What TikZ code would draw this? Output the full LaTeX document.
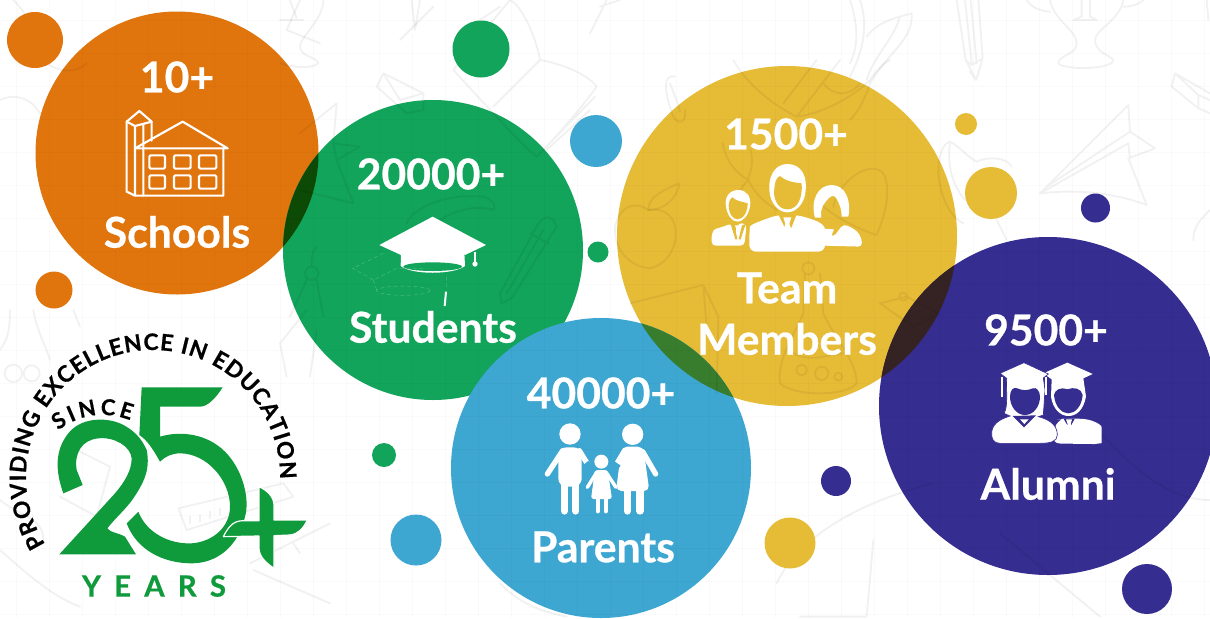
\documentclass[tikz,border=0pt]{standalone}
\usepackage{fontspec}
\setmainfont{Lato}
\newfontfamily\hv[UprightFont=* Bold,FakeBold=0.6]{Lato}
\newfontfamily\hvring[UprightFont=* Bold,FakeBold=0.8]{Lato}
\newfontfamily\yearsfont[UprightFont=* Bold,FakeBold=0.6,LetterSpace=45]{Lato}
\usetikzlibrary{calc,decorations.text}
\definecolor{corange}{HTML}{E1750D}
\definecolor{cgreen}{HTML}{12A45A}
\definecolor{cblue}{HTML}{3DA6D1}
\definecolor{cyellow}{HTML}{E6BB36}
\definecolor{cpurple}{HTML}{362D90}
\definecolor{logog}{HTML}{0F9A3C}
\definecolor{ogmix}{HTML}{0C4A05}
\definecolor{bymix}{HTML}{387C2E}
\definecolor{ypmix}{HTML}{352323}
\tikzset{
 zoomed/.style 2 args={shift={(#1,#2)},x=.25pt,y=-.25pt},
 dood/.style={draw=black,draw opacity=.055,line width=1.4pt,line join=round,line cap=round},
 gridl/.style={draw=black,draw opacity=.018,line width=.5pt},
 lab/.style={text=white,inner sep=0pt,font=\hv\fontsize{32}{37}\selectfont},
 wline/.style={draw=white,line width=1.6pt,line join=round,line cap=round},
 limb/.style={draw=white,line cap=round,line width=#1}
}
\begin{document}
\begin{tikzpicture}[x=.75pt,y=-.75pt]
\useasboundingbox (0,0) rectangle (1210,618);
\clip (0,0) rectangle (1210,618);
\fill[white] (0,0) rectangle (1210,618);
% large circles
\fill[corange] (177,153) circle[radius=141.5];
\fill[cyellow] (787,236) circle[radius=170];
\fill[cgreen] (433,250) circle[radius=150];
\fill[cpurple] (1048,406) circle[radius=169];
\begin{scope}\clip (177,153) circle[radius=141.5];\fill[ogmix] (433,250) circle[radius=150];\end{scope}
\begin{scope}\clip (787,236) circle[radius=170];\fill[ypmix] (1048,406) circle[radius=169];\end{scope}
\fill[cblue] (601,468) circle[radius=150];
\begin{scope}\clip (787,236) circle[radius=170];\fill[bymix] (601,468) circle[radius=150];\end{scope}
% grid
\foreach \g in {16,49,...,1210}{\draw[gridl] (\g,0)--(\g,618);}
\foreach \g in {20,53,...,618}{\draw[gridl] (0,\g)--(1210,\g);}
% doodles, top right
\begin{scope}[zoomed={850}{0}]
\draw[dood] (600,0) .. controls (610,60) and (680,90) .. (680,130) .. controls (680,165) and (625,165) .. (625,190) .. controls (640,210) and (780,210) .. (790,182) .. controls (785,165) and (735,160) .. (735,120) .. controls (735,90) and (810,60) .. (820,0);
\draw[dood] (530,0) .. controls (545,25) and (580,35) .. (600,35) (820,20) .. controls (850,20) and (870,10) .. (880,0);
\draw[dood] (695,0)--(695,50)--(670,60)--(740,60)--(720,50)--(720,0);
\draw[dood] (320,0)--(347,180)--(378,240)--(398,175)--(385,0) (345,0)--(365,190) (362,0)--(380,190) (347,180)--(365,195)--(398,175) (360,215)--(378,240)--(388,212);
\draw[dood] (570,580)--(835,315)--(840,395)--(915,445)--(835,475)--(890,615) .. controls (810,585) and (700,565) .. (570,580) (570,580)--(835,430)--(840,475) (590,560)--(840,395);
\draw[dood] (1080,280)--(975,220)--(965,260)--(1045,325)--(1080,340) (975,220) -- (1045,285)--(1080,300) (1045,285)--(1045,325);
\draw[dood] (150,50)--(185,40) .. controls (190,120) and (120,150) .. (60,250) .. controls (40,310) and (20,340) .. (0,360) (30,0) .. controls (60,90) and (30,170) .. (0,230) (0,0) .. controls (30,90) and (20,150) .. (0,190) (150,50) .. controls (110,60) and (70,80) .. (50,110) (150,50) .. controls (130,120) and (70,170) .. (50,240);
\draw[dood] (265,520) .. controls (265,460) and (280,430) .. (300,425) .. controls (330,440) and (350,470) .. (380,485) .. controls (410,470) and (470,470) .. (485,500) (265,520) .. controls (270,590) and (300,650) .. (340,670) (300,425) .. controls (290,500) and (310,560) .. (345,600) (440,660)--(470,720);
\draw[dood] (1080,630) .. controls (1050,660) and (1030,680) .. (1030,720) (1070,0)--(1075,60);
\end{scope}
% doodles, yellow circle
\begin{scope}[zoomed={620}{60}]
\draw[dood] (85,450) .. controls (40,420) and (0,440) .. (-15,500) .. controls (-20,570) and (30,620) .. (90,625) .. controls (150,610) and (175,550) .. (165,500) .. controls (155,455) and (120,445) .. (85,450);
\draw[dood] (85,450) .. controls (85,410) and (130,390) .. (178,370) .. controls (170,420) and (130,450) .. (85,450);
\draw[dood] (640,440) .. controls (660,350) and (770,290) .. (795,350) .. controls (815,410) and (785,490) .. (770,525) .. controls (720,510) and (640,470) .. (600,430);
\draw[dood] (308,250) .. controls (320,310) and (350,340) .. (385,360) .. controls (410,410) and (440,430) .. (470,450) (392,270) .. controls (400,310) and (395,330) .. (380,365) .. controls (350,400) and (340,430) .. (330,460);
\draw[dood] (165,50) .. controls (130,40) and (130,90) .. (160,170) .. controls (175,195) and (200,190) .. (195,150) (150,70) .. controls (165,110) and (175,130) .. (180,155);
\draw[dood] (340,0) .. controls (380,70) and (450,130) .. (530,170) .. controls (610,160) and (700,110) .. (750,60) .. controls (770,30) and (790,10) .. (810,0) (490,130)--(590,0) (530,170)--(660,0) (610,70) .. controls (640,110) and (690,110) .. (720,70);
\draw[dood] (30,730)--(250,675)--(295,770)--(290,1000) (250,675)--(260,800);
\draw[dood] (565,625) circle[radius=18] (555,640)--(550,760) .. controls (520,830) and (470,900) .. (480,970) .. controls (520,1010) and (680,1010) .. (710,970) .. controls (710,900) and (640,830) .. (610,760)--(600,640) (520,880) .. controls (580,910) and (630,880) .. (675,880);
\draw[dood] (545,930) circle[radius=16] (605,940) circle[radius=20] (655,950) circle[radius=12];
\draw[dood] (780,730)--(860,710)--(960,760)--(880,800)--cycle (850,710) circle[radius=12];
\end{scope}
% doodles, green circle and book
\begin{scope}[zoomed={280}{0}]
\draw[dood] (520,210) .. controls (580,130) and (640,60) .. (690,0) .. controls (730,20) and (770,120) .. (780,180) .. controls (840,190) and (920,220) .. (950,260) .. controls (900,330) and (820,420) .. (770,470) .. controls (730,440) and (640,340) .. (520,210) (780,180)--(640,320) (945,290)--(790,450) (930,330)--(800,450) (600,60)--(660,20);
\draw[dood] (290,260)--(310,220)--(430,280)--(430,330)--(380,340)--cycle (310,220)--(360,300)--(430,280) ;
\draw[dood] (820,660) .. controls (800,640) and (780,660) .. (770,680)--(660,880)--(665,910)--(695,895)--(830,680)--(820,660) (750,700)--(805,730) (680,880)--(790,690);
\draw[dood] (160,430)--(170,310)--(60,400) (160,430)--(240,440)--(170,480)--(220,610)--(60,570) (170,480)--(160,430);
\draw[dood] (110,740) .. controls (90,760) and (95,800) .. (95,800) (95,820) circle[radius=20] (80,840)--(30,950) (110,840)--(130,950);
\draw[dood] (380,670) .. controls (400,620) and (500,580) .. (610,590) .. controls (640,600) and (650,620) .. (640,630) .. controls (580,610) and (500,640) .. (470,670);
\draw[dood] (30,0) .. controls (40,30) and (50,50) .. (50,60) (0,60)--(70,60) (130,0) .. controls (130,60) and (60,110) .. (60,140) .. controls (60,170) and (110,170) .. (115,190) .. controls (90,210) and (30,200) .. (0,190) (395,0)--(405,90)--(420,0);
\draw[dood] (980,0)--(930,100) (960,20)--(1020,0);
\end{scope}
% doodles, left and lower
\begin{scope}[zoomed={0}{310}]
\draw[dood] (30,0) .. controls (30,70) and (20,90) .. (0,120) (100,0) .. controls (110,60) and (130,90) .. (150,150) (40,190) circle[radius=26] (95,190) circle[radius=24];
\draw[dood] (840,100)--(920,0) (840,100)--(860,200) (930,200)--(950,60);
\draw[dood] (535,595)--(850,520)--(880,560)--(560,660)--cycle (570,640)--(570,620) (600,635)--(600,615) (630,625)--(630,605) (660,615)--(660,595);
\draw[dood] (230,420)--(330,470)--(290,620)--(180,560);
\draw[dood] (750,760)--(990,640) (760,780)--(990,880) (880,700)--(900,730);
\draw[dood] (0,570) .. controls (60,620) and (130,620) .. (130,690) (0,720) .. controls (90,800) and (160,860) .. (240,890) (220,0)--(240,50);
\end{scope}
\begin{scope}[zoomed={0}{0}]
\draw[dood] (0,300) .. controls (40,280) and (90,290) .. (120,340) (40,0) .. controls (80,40) and (100,80) .. (110,130) (130,180) .. controls (170,220) and (230,220) .. (260,190) (900,0)--(860,90)--(960,130) (1200,120)--(1300,20);
\draw[dood] (2330,1750) .. controls (2400,1600) and (2600,1500) .. (2800,1450) (2400,1850)--(2600,1850)--(2620,1620) (3000,1600)--(3300,1850) (3300,1300) .. controls (3400,1400) and (3500,1500) .. (3630,1500);
\draw[dood] (1500,1750) .. controls (1550,1800) and (1600,1830) .. (1700,1850);
\end{scope}
% small circles
\fill[corange] (35,40) circle[radius=28];
\fill[corange] (54,290) circle[radius=18.5];
\fill[cgreen] (481,49) circle[radius=28.5];
\fill[cgreen] (598,252) circle[radius=10.5];
\fill[cgreen] (384,455) circle[radius=12];
\fill[cblue] (596,141) circle[radius=26];
\fill[cblue] (416,540) circle[radius=25.5];
\fill[cpurple] (836,481) circle[radius=15];
\fill[cpurple] (1095.5,208) circle[radius=14.5];
\fill[cpurple] (1147,589) circle[radius=25];
\fill[cyellow] (790,543) circle[radius=25.5];
\fill[cyellow] (966,124) circle[radius=11];
\fill[cyellow] (991,193) circle[radius=26];
% labels
\node[lab] (n10) at (177,77) {10+};
\node[lab] (ns) at (177,232) {Schools};
\node[lab] (n20) at (431,174) {20000+};
\node[lab] (nst) at (433,327) {Students};
\node[lab] (n15) at (786,134) {1500+};
\node[lab] (nte) at (787,288) {Team};
\node[lab] (nme) at (787,339) {Members};
\node[lab] (n40) at (601,393) {40000+};
\node[lab] (npa) at (603,547) {Parents};
\node[lab] (n95) at (1046,330) {9500+};
\node[lab] (nal) at (1048,484) {Alumni};
% school icon
\begin{scope}[zoomed={90}{50}]
\draw[wline] (135,295)--(278,215)--(413,295)--cycle;
\draw[wline] (110,215)--(148,183)--(185,215)--(185,272);
\draw[wline] (110,215)--(135,228)--(185,215) (135,228)--(135,437) (160,225)--(160,437);
\draw[wline] (110,215)--(110,425)--(135,437)--(400,437)--(400,295);
\foreach \wx/\ww in {178/47,252/50,327/52}{\foreach \wy in {316,376}{
 \draw[wline,rounded corners=1pt] (\wx,\wy) rectangle (\wx+\ww,\wy+40);}}
\end{scope}
% cap icon
\begin{scope}[zoomed={340}{200}]
\fill[white] (118,135)--(278,50)--(438,135)--(375,165) .. controls (340,125) and (215,125) .. (183,165)--cycle;
\fill[white] (183,158) .. controls (210,125) and (345,125) .. (373,158)--(375,198) .. controls (340,225) and (215,225) .. (182,198)--cycle;
\fill[cgreen] (278,200) ellipse[x radius=88,y radius=13];
\draw[white,line width=1pt] (405,155)--(405,190);
\fill[white] (405,192) circle[radius=8];
\draw[white,line width=1.5pt] (318,275)--(314,318);
\draw[white,draw opacity=.22,line width=.4pt,densely dashed] (130,160)--(38,205)--(100,240)--(170,205)--(260,205) (190,272) ellipse[x radius=80,y radius=14] (320,230)--(320,270) (110,270)--(100,240);
\end{scope}
% team icon
\begin{scope}[zoomed={700}{150}]
% centre man
\fill[white] (210,135) .. controls (200,80) and (225,42) .. (262,42) .. controls (305,42) and (325,80) .. (315,135) .. controls (310,160) and (290,187) .. (262,187) .. controls (235,187) and (215,160) .. (210,135)--cycle;
\fill[cyellow] (222,125) .. controls (225,100) and (225,85) .. (240,78) .. controls (260,95) and (285,98) .. (305,100) .. controls (308,140) and (295,178) .. (262,178) .. controls (235,178) and (222,150) .. (222,125)--cycle;
\fill[white,rounded corners=5pt] (148,305)--(148,250) .. controls (150,225) and (175,215) .. (232,195)--(292,195) .. controls (345,210) and (375,220) .. (375,260)--(375,305)--cycle;
\fill[cyellow] (235,193)--(290,193)--(265,255)--cycle;
\fill[white] (250,202)--(274,202)--(268,222)--(278,250)--(262,262)--(246,250)--(256,222)--cycle;
% left man
\fill[white] (78,170) .. controls (72,140) and (90,120) .. (115,120) .. controls (140,120) and (155,140) .. (150,170) .. controls (145,195) and (130,215) .. (113,215) .. controls (95,215) and (82,195) .. (78,170)--cycle;
\fill[cyellow] (86,165) .. controls (88,150) and (92,145) .. (97,142) .. controls (110,155) and (130,155) .. (143,160) .. controls (143,185) and (130,208) .. (113,208) .. controls (98,208) and (86,190) .. (86,165)--cycle;
\fill[white,rounded corners=3pt] (35,287)--(35,250) .. controls (45,235) and (75,230) .. (92,218)--(105,260)--(115,218)--(140,222)--(133,287)--cycle;
\fill[white] (104,226)--(124,226)--(120,236)--(126,256)--(114,268)--(103,256)--(109,236)--cycle;
\fill[cyellow] (92,222)--(103,224)--(112,268)--(106,268)--cycle (137,222)--(126,226)--(116,268)--(122,268)--cycle;
% woman
\fill[white] (345,203) .. controls (330,150) and (355,105) .. (395,105) .. controls (435,105) and (455,150) .. (445,200)--(425,200) .. controls (425,180) and (420,160) .. (405,140) .. controls (395,130) and (380,150) .. (370,165) .. controls (362,180) and (362,195) .. (364,203)--cycle;
\fill[white,rounded corners=3pt] (373,287)--(373,240)--(400,262)--(430,222) .. controls (460,235) and (482,245) .. (487,290)--cycle;
\fill[white] (372,236)--(402,238)--(395,255)--(400,275)--(385,287)--(373,287)--cycle;
\end{scope}
% family icon
\begin{scope}[zoomed={530}{410}]
\fill[white] (120,72) circle[radius=32];
\fill[white,rounded corners=6pt] (85,112)--(155,112)--(155,230)--(85,230)--cycle;
\draw[limb=4pt] (98,122)--(52,192) (148,122)--(190,190);
\draw[limb=5.5pt] (103,215)--(103,303) (137,215)--(137,303);
\fill[white] (308,73) circle[radius=32];
\fill[white,rounded corners=4pt] (275,110)--(340,110)--(358,243)--(258,243)--cycle;
\draw[limb=4pt] (282,125)--(243,190) (338,125)--(377,192);
\draw[limb=5.5pt] (292,235)--(292,303) (330,235)--(330,303);
\draw[cblue,line width=2pt] (175,235)--(195,172)--(235,172)--(258,235);
\draw[cblue,line width=6pt] (166,160)--(190,190) (262,160)--(240,190);
\fill[white] (214,155) circle[radius=21];
\fill[white,rounded corners=2pt] (195,180)--(233,180)--(246,267)--(183,267)--cycle;
\draw[limb=2.6pt] (200,187)--(172,232) (228,187)--(258,232);
\draw[limb=3.2pt] (203,262)--(203,304) (227,262)--(227,304);
\end{scope}
% alumni icon
\begin{scope}[zoomed={980}{350}]
% man
\fill[white] (190,70)--(262,38)--(338,72)--(310,85)--(318,140) .. controls (310,180) and (290,198) .. (265,198) .. controls (240,198) and (218,175) .. (213,140)--(215,88)--cycle;
\fill[cpurple] (222,135) .. controls (225,120) and (240,110) .. (262,118) .. controls (280,110) and (305,115) .. (308,135) .. controls (305,170) and (285,190) .. (265,190) .. controls (245,190) and (225,170) .. (222,135)--cycle;
\fill[white,rounded corners=6pt] (215,280)--(230,210)--(255,205)--(290,205) .. controls (340,210) and (365,225) .. (365,255) .. controls (365,280) and (340,282) .. (320,282)--cycle;
\fill[cpurple] (250,205)--(285,205)--(268,235)--cycle;
\fill[white] (258,208)--(276,208)--(272,222)--(276,235)--(258,235)--(263,222)--cycle;
% woman
\draw[cpurple,line width=.5pt,fill=white] (60,70)--(132,38)--(205,72)--(190,84)--(195,120)--(190,195)--(175,200) .. controls (215,210) and (232,230) .. (232,255) .. controls (232,275) and (210,280) .. (180,280)--(60,280) .. controls (40,280) and (33,265) .. (35,245) .. controls (40,215) and (70,205) .. (90,198)--(72,190) .. controls (85,170) and (78,120) .. (80,85)--cycle;
\fill[cpurple] (90,140) .. controls (90,120) and (100,110) .. (112,115) .. controls (125,122) and (145,122) .. (158,115) .. controls (170,110) and (180,125) .. (180,140) .. controls (180,170) and (160,195) .. (135,195) .. controls (110,195) and (90,170) .. (90,140)--cycle;
\fill[cpurple] (98,198)--(168,196)--(132,232)--cycle;
\fill[white] (120,208)--(146,208)--(133,222)--cycle;
\draw[white,line width=1.3pt] (67,80)--(67,140);
\draw[cpurple,line width=.5pt] (196,78)--(196,130);
\draw[white,line width=1.3pt] (198,80)--(198,135);
\end{scope}
% logo ring
\coordinate (ringc) at (153,477);
\coordinate (sincec) at (103,488);
\begin{scope}[color=black]
\path[decorate,decoration={text along path,text align={fit to path},text={|\hvring\fontsize{17}{21}\selectfont|PROVIDING EXCELLENCE IN EDUCATION}}] ($(ringc)+(212:95.25pt)$) arc[start angle=212,end angle=-1,radius=95.25pt];
\end{scope}
\begin{scope}[color=logog]
\path[decorate,decoration={text along path,text align={fit to path},text={|\hv\fontsize{16.5}{20}\selectfont|SINCE}}] ($(sincec)+(128:54.75pt)$) arc[start angle=128,end angle=68,radius=54.75pt];
\end{scope}
\begin{scope}[zoomed={0}{310}]
% 2
\fill[logog] (190,550) .. controls (165,480) and (165,420) .. (205,370) .. controls (240,325) and (310,320) .. (360,340) .. controls (400,358) and (425,385) .. (440,420) .. controls (452,480) and (430,520) .. (400,565) .. controls (380,595) and (345,625) .. (322,655) .. controls (330,668) and (355,668) .. (375,680)--(408,733)--(178,733)--(345,550) .. controls (375,515) and (395,480) .. (395,445) .. controls (392,410) and (345,380) .. (295,385) .. controls (245,390) and (222,430) .. (230,480)--(248,525)--cycle;
% 5
\fill[logog] (425,232)--(668,232) .. controls (650,260) and (625,290) .. (600,290)--(480,290)--(480,380) .. controls (540,362) and (620,370) .. (675,425) .. controls (730,480) and (750,570) .. (735,620) .. controls (715,710) and (650,760) .. (575,760) .. controls (490,760) and (410,720) .. (380,640)--(415,605) .. controls (440,670) and (510,703) .. (575,700) .. controls (640,695) and (690,650) .. (690,590) .. controls (690,510) and (620,430) .. (540,430) .. controls (515,430) and (495,440) .. (480,455) .. controls (455,410) and (440,390) .. (418,375)--cycle;
\draw[white,line width=.7pt] (375,645) .. controls (385,680) and (405,715) .. (430,735);
% plus
\path[fill=logog,draw=white,line width=.9pt,line join=round] (777,530) .. controls (800,540) and (822,560) .. (822,585)--(822,630)--(922,630) .. controls (910,655) and (895,672) .. (870,675)--(822,677)--(822,775) .. controls (800,760) and (777,740) .. (777,715)--(777,678)--(670,680) .. controls (685,650) and (700,632) .. (730,632)--(777,632)--cycle;
\end{scope}
\node[text=logog,inner sep=0pt,font=\yearsfont\fontsize{22}{26}\selectfont] (nyears) at (154,586) {YEARS};
\end{tikzpicture}
\end{document}
